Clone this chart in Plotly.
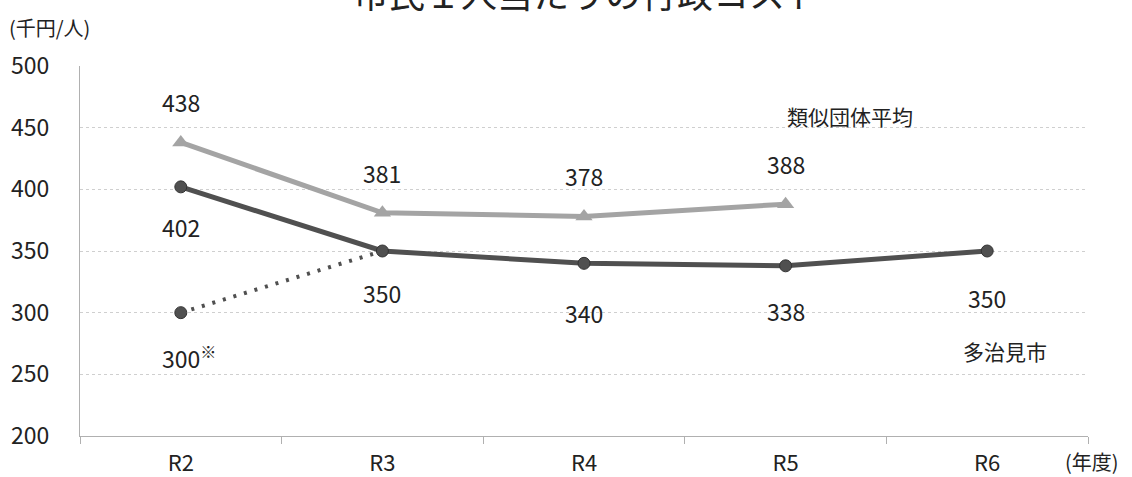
import plotly.graph_objects as go

years = ["R2", "R3", "R4", "R5", "R6"]
tajimi = [402, 350, 340, 338, 350]
similar_avg = [438, 381, 378, 388]
tajimi_r2_alt = [300, 350]

FONT = "Noto Sans CJK JP"
DARK = "#505050"
LIGHT = "#a4a4a4"
TXT = "#222222"

fig = go.Figure()

# R2 alternative value joined to R3 with a dotted line
fig.add_trace(go.Scatter(
    x=years[:2], y=tajimi_r2_alt, mode="lines",
    line=dict(color=DARK, width=4, dash="3px,8px"),
    hoverinfo="skip", showlegend=False))
fig.add_trace(go.Scatter(
    x=years[:1], y=tajimi_r2_alt[:1], mode="markers",
    marker=dict(color=DARK, size=12, line=dict(color="#333", width=1)),
    showlegend=False))

fig.add_trace(go.Scatter(
    x=years[:len(similar_avg)], y=similar_avg, mode="lines+markers",
    line=dict(color=LIGHT, width=5),
    marker=dict(symbol="triangle-up", size=15, color=LIGHT),
    name="類似団体平均", showlegend=False))

fig.add_trace(go.Scatter(
    x=years, y=tajimi, mode="lines+markers",
    line=dict(color=DARK, width=5),
    marker=dict(color=DARK, size=12, line=dict(color="#333", width=1)),
    name="多治見市", showlegend=False))

# value labels
num = dict(font=dict(family=FONT, size=23, color=TXT), showarrow=False)
jp = dict(font=dict(family=FONT, size=21, color=TXT), showarrow=False)
for i, v in enumerate(similar_avg):
    fig.add_annotation(x=years[i], y=v, text=str(v), yshift=40, **num)
tajimi_shift = [-40, -42, -50, -45, -47]
for i, v in enumerate(tajimi):
    fig.add_annotation(x=years[i], y=v, text=str(v), yshift=tajimi_shift[i], **num)
fig.add_annotation(x=years[0], y=tajimi_r2_alt[0], text="300<sup>※</sup>",
                   yshift=-44, xshift=8, **num)

fig.add_annotation(x=3.32, y=459.5, text="類似団体平均", **jp)
fig.add_annotation(x=4.09, y=269, text="多治見市", **jp)

fig.add_annotation(xref="paper", yref="paper", x=-0.072, y=1.15,
                   xanchor="left", text="(千円/人)",
                   font=dict(family=FONT, size=20, color=TXT), showarrow=False)
fig.add_annotation(xref="paper", yref="paper", x=1.033, y=-0.068,
                   xanchor="right", yanchor="middle", text="(年度)",
                   font=dict(family=FONT, size=20, color=TXT), showarrow=False)

# chart title, partly above the top edge of the page
fig.add_annotation(xref="paper", yref="paper", x=0.503, y=1.124,
                   xanchor="center", yanchor="bottom",
                   text="市民１人当たりの行政コスト",
                   font=dict(family=FONT, size=36, color=TXT), showarrow=False)

fig.update_layout(
    width=1132, height=477,
    margin=dict(l=80, r=44, t=66, b=41),
    paper_bgcolor="white", plot_bgcolor="white",
    font=dict(family=FONT, color=TXT),
)
fig.update_xaxes(
    type="category", range=[-0.5, 4.5], automargin=False,
    showgrid=False, showline=True, linecolor="#b0b0b0", linewidth=1,
    ticks="outside", tickson="boundaries", ticklen=7, tickcolor="#b0b0b0",
    tickfont=dict(family=FONT, size=22, color=TXT), ticklabelstandoff=8,
)
fig.update_yaxes(
    range=[200, 500], dtick=50, automargin=False,
    showgrid=True, gridcolor="#cfcfcf", griddash="dot", gridwidth=1,
    showline=True, linecolor="#b0b0b0", linewidth=1,
    zeroline=False,
    tickfont=dict(family=FONT, size=23, color=TXT), ticklabelstandoff=25,
)

fig.write_html("out.html")
